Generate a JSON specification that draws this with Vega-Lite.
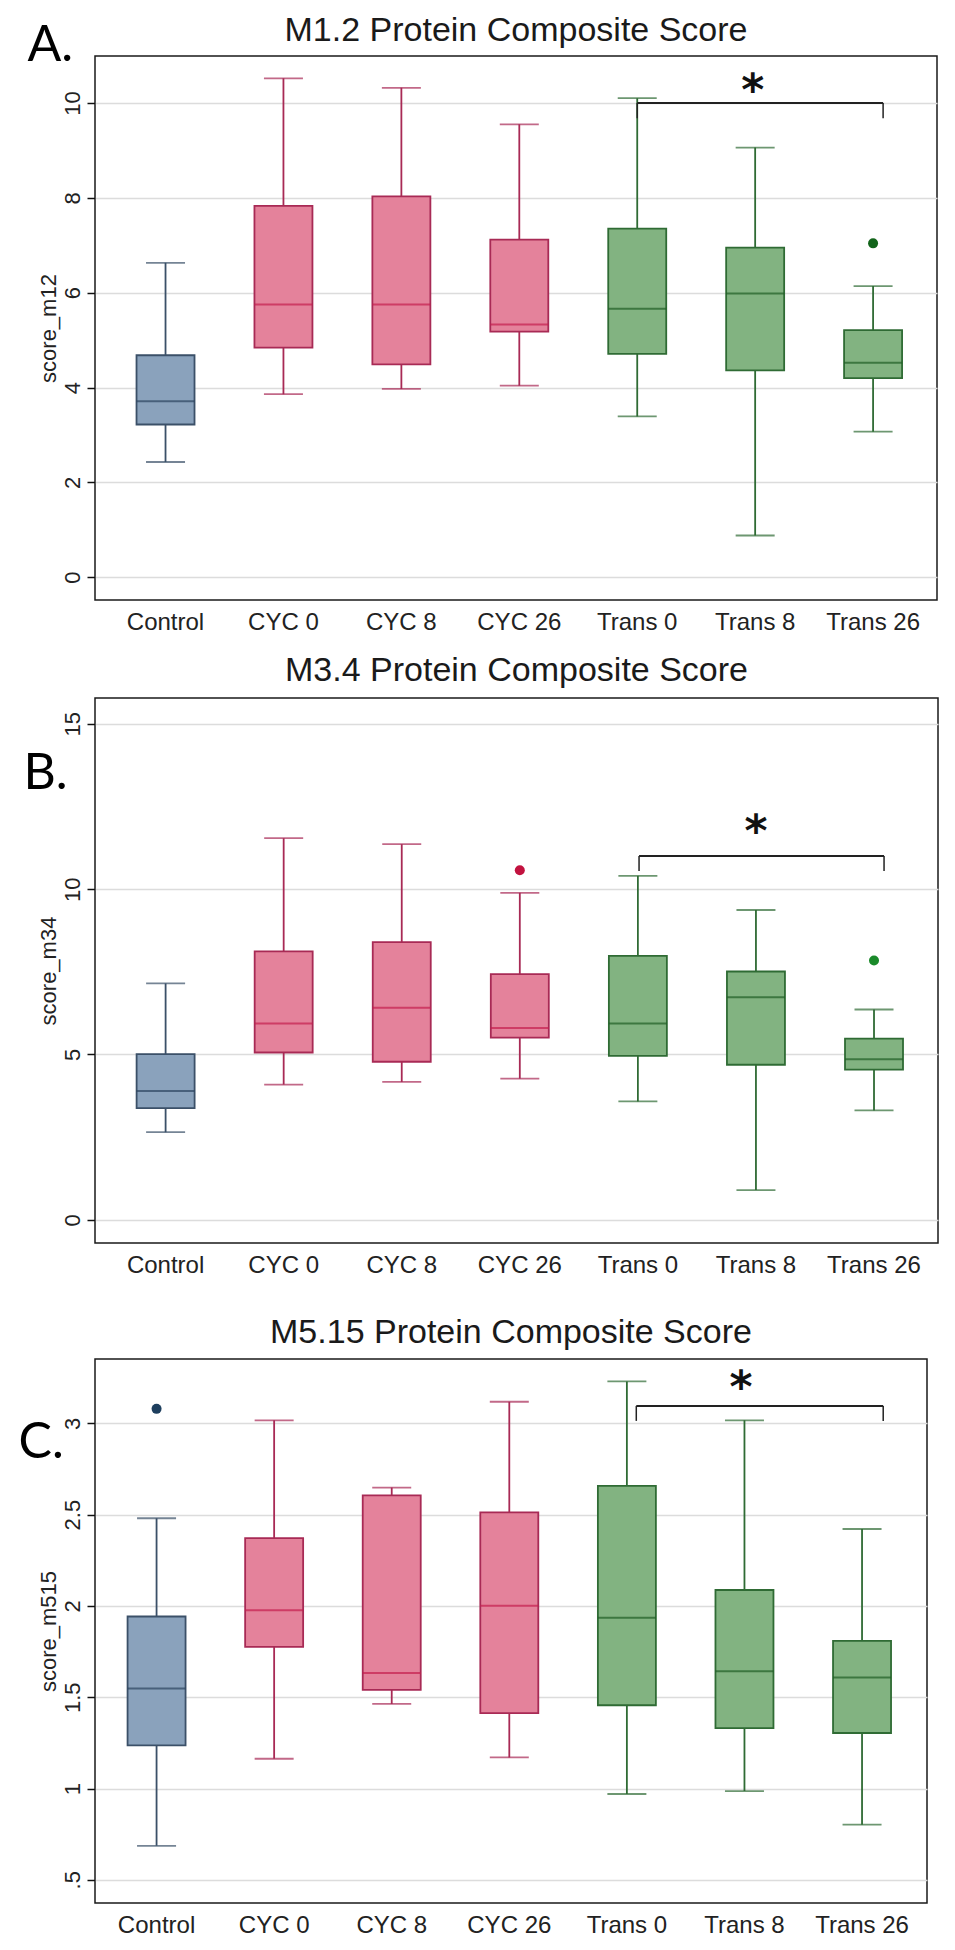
{
  "$schema": "https://vega.github.io/schema/vega-lite/v6.json",
  "padding": {"left": 18, "top": 13, "right": 0, "bottom": 0},
  "background": "white",
  "datasets": {
    "m12": [
      {"group": "Control", "arm": "Control", "lower": 2.43, "q1": 3.22, "median": 3.71, "q3": 4.68, "upper": 6.63},
      {"group": "CYC 0", "arm": "CYC", "lower": 3.86, "q1": 4.84, "median": 5.75, "q3": 7.83, "upper": 10.52},
      {"group": "CYC 8", "arm": "CYC", "lower": 3.97, "q1": 4.49, "median": 5.75, "q3": 8.03, "upper": 10.32},
      {"group": "CYC 26", "arm": "CYC", "lower": 4.04, "q1": 5.18, "median": 5.33, "q3": 7.12, "upper": 9.55},
      {"group": "Trans 0", "arm": "Trans", "lower": 3.39, "q1": 4.71, "median": 5.66, "q3": 7.35, "upper": 10.1},
      {"group": "Trans 8", "arm": "Trans", "lower": 0.88, "q1": 4.36, "median": 5.98, "q3": 6.95, "upper": 9.06},
      {"group": "Trans 26", "arm": "Trans", "lower": 3.07, "q1": 4.2, "median": 4.52, "q3": 5.21, "upper": 6.14}
    ],
    "m12_out": [
      {"group": "Trans 26", "arm": "Trans", "value": 7.04}
    ],
    "m12_sig": [
      {"from": "Trans 0", "to": "Trans 26", "mid": "Trans 8", "bar": 10.0, "end": 9.68, "star": 9.95, "label": "*"}
    ],
    "m34": [
      {"group": "Control", "arm": "Control", "lower": 2.65, "q1": 3.38, "median": 3.9, "q3": 5.01, "upper": 7.15},
      {"group": "CYC 0", "arm": "CYC", "lower": 4.09, "q1": 5.06, "median": 5.94, "q3": 8.12, "upper": 11.54},
      {"group": "CYC 8", "arm": "CYC", "lower": 4.17, "q1": 4.78, "median": 6.41, "q3": 8.4, "upper": 11.36},
      {"group": "CYC 26", "arm": "CYC", "lower": 4.27, "q1": 5.51, "median": 5.8, "q3": 7.43, "upper": 9.89},
      {"group": "Trans 0", "arm": "Trans", "lower": 3.58, "q1": 4.96, "median": 5.94, "q3": 7.98, "upper": 10.4},
      {"group": "Trans 8", "arm": "Trans", "lower": 0.9, "q1": 4.69, "median": 6.73, "q3": 7.51, "upper": 9.37},
      {"group": "Trans 26", "arm": "Trans", "lower": 3.31, "q1": 4.54, "median": 4.86, "q3": 5.48, "upper": 6.36}
    ],
    "m34_out": [
      {"group": "CYC 26", "arm": "CYC", "value": 10.57},
      {"group": "Trans 26", "arm": "Trans", "value": 7.84}
    ],
    "m34_sig": [
      {"from": "Trans 0", "to": "Trans 26", "mid": "Trans 8", "bar": 11.0, "end": 10.55, "star": 11.31, "label": "*"}
    ],
    "m515": [
      {"group": "Control", "arm": "Control", "lower": 0.686, "q1": 1.236, "median": 1.547, "q3": 1.942, "upper": 2.48},
      {"group": "CYC 0", "arm": "CYC", "lower": 1.163, "q1": 1.776, "median": 1.976, "q3": 2.371, "upper": 3.016},
      {"group": "CYC 8", "arm": "CYC", "lower": 1.463, "q1": 1.54, "median": 1.633, "q3": 2.605, "upper": 2.648},
      {"group": "CYC 26", "arm": "CYC", "lower": 1.17, "q1": 1.413, "median": 2.001, "q3": 2.512, "upper": 3.118},
      {"group": "Trans 0", "arm": "Trans", "lower": 0.97, "q1": 1.456, "median": 1.935, "q3": 2.657, "upper": 3.229},
      {"group": "Trans 8", "arm": "Trans", "lower": 0.986, "q1": 1.331, "median": 1.642, "q3": 2.087, "upper": 3.016},
      {"group": "Trans 26", "arm": "Trans", "lower": 0.802, "q1": 1.304, "median": 1.608, "q3": 1.808, "upper": 2.421}
    ],
    "m515_out": [
      {"group": "Control", "arm": "Control", "value": 3.079}
    ],
    "m515_sig": [
      {"from": "Trans 0", "to": "Trans 26", "mid": "Trans 8", "bar": 3.095, "end": 3.013, "star": 3.118, "label": "*"}
    ]
  },
  "spacing": 18,
  "vconcat": [
    {
      "title": {"text": "A.", "anchor": "start", "frame": "group", "font": "Lato", "fontSize": 50, "fontWeight": "normal", "color": "#000000", "offset": 0, "dx": -67.5, "dy": 58},
      "vconcat": [
        {
          "width": 842, "height": 544,
          "title": {"text": "M1.2 Protein Composite Score", "frame": "group", "anchor": "middle", "offset": 8},
          "layer": [
            {"data": {"name": "m12"}, "mark": {"type": "rule", "strokeWidth": 1.8},
             "encoding": {
               "x": {"field": "group", "type": "nominal", "scale": {"type": "band", "domain": ["Control", "CYC 0", "CYC 8", "CYC 26", "Trans 0", "Trans 8", "Trans 26"], "paddingInner": 0, "paddingOuter": 0.07, "align": 0.7}, "axis": {"title": null, "ticks": false, "domain": false, "grid": false, "labelAngle": 0, "labelFontSize": 24, "labelPadding": 10, "labelColor": "#222222"}},
               "y": {"field": "lower", "type": "quantitative", "scale": {"domain": [-0.48, 10.99], "nice": false, "zero": false}, "axis": {"title": "score_m12", "values": [0, 2, 4, 6, 8, 10], "grid": true, "gridColor": "#dcdcdc", "gridWidth": 1.5, "tickSize": 8, "tickColor": "#111111", "tickWidth": 1.5, "domain": false, "labelAngle": -90, "labelAlign": "center", "labelBaseline": "alphabetic", "labelFontSize": 22, "labelPadding": 8, "labelColor": "#222222", "titleFontSize": 22, "titleFontWeight": "normal", "titleColor": "#222222", "titlePadding": 1}},
               "y2": {"field": "upper"},
               "color": {"field": "arm", "type": "nominal", "scale": {"domain": ["Control", "CYC", "Trans"], "range": ["#3b5068", "#a82a55", "#2f6b34"]}, "legend": null}
             }},
            {"data": {"name": "m12"}, "mark": {"type": "tick", "size": 39, "thickness": 1.8},
             "encoding": {"x": {"field": "group", "type": "nominal"}, "y": {"field": "lower", "type": "quantitative"},
               "color": {"field": "arm", "type": "nominal", "scale": {"domain": ["Control", "CYC", "Trans"], "range": ["#3b5068", "#a82a55", "#2f6b34"]}, "legend": null}}},
            {"data": {"name": "m12"}, "mark": {"type": "tick", "size": 39, "thickness": 1.8},
             "encoding": {"x": {"field": "group", "type": "nominal"}, "y": {"field": "upper", "type": "quantitative"},
               "color": {"field": "arm", "type": "nominal", "scale": {"domain": ["Control", "CYC", "Trans"], "range": ["#3b5068", "#a82a55", "#2f6b34"]}, "legend": null}}},
            {"data": {"name": "m12"}, "mark": {"type": "bar", "size": 58, "strokeWidth": 1.8},
             "encoding": {"x": {"field": "group", "type": "nominal"}, "y": {"field": "q1", "type": "quantitative"}, "y2": {"field": "q3"},
               "fill": {"field": "arm", "type": "nominal", "scale": {"domain": ["Control", "CYC", "Trans"], "range": ["#8aa2bc", "#e4829b", "#82b381"]}, "legend": null},
               "stroke": {"field": "arm", "type": "nominal", "scale": {"domain": ["Control", "CYC", "Trans"], "range": ["#3b5068", "#a82a55", "#2f6b34"]}, "legend": null}}},
            {"data": {"name": "m12"}, "mark": {"type": "tick", "size": 58, "thickness": 2},
             "encoding": {"x": {"field": "group", "type": "nominal"}, "y": {"field": "median", "type": "quantitative"},
               "color": {"field": "arm", "type": "nominal", "scale": {"domain": ["Control", "CYC", "Trans"], "range": ["#2c4560", "#c41e4f", "#1f5e25"]}, "legend": null}}},
            {"data": {"name": "m12_out"}, "mark": {"type": "point", "filled": true, "size": 100, "opacity": 1},
             "encoding": {"x": {"field": "group", "type": "nominal"}, "y": {"field": "value", "type": "quantitative"},
               "color": {"field": "arm", "type": "nominal", "scale": {"domain": ["Control", "CYC", "Trans"], "range": ["#1e3f5e", "#c2123f", "#12641a"]}, "legend": null}}},
            {"data": {"name": "m12_sig"}, "mark": {"type": "rule", "strokeWidth": 2, "color": "#222222"},
             "encoding": {"x": {"field": "from", "type": "nominal", "bandPosition": 0.5}, "x2": {"field": "to", "bandPosition": 0.585}, "y": {"field": "bar", "type": "quantitative"}}},
            {"data": {"name": "m12_sig"}, "mark": {"type": "rule", "strokeWidth": 1.5, "color": "#222222"},
             "encoding": {"x": {"field": "from", "type": "nominal", "bandPosition": 0.5}, "y": {"field": "bar", "type": "quantitative"}, "y2": {"field": "end"}}},
            {"data": {"name": "m12_sig"}, "mark": {"type": "rule", "strokeWidth": 1.5, "color": "#222222"},
             "encoding": {"x": {"field": "to", "type": "nominal", "bandPosition": 0.585}, "y": {"field": "bar", "type": "quantitative"}, "y2": {"field": "end"}}},
            {"data": {"name": "m12_sig"}, "mark": {"type": "text", "font": "DejaVu Sans", "fontSize": 44, "fontWeight": "bold", "color": "#111111", "baseline": "alphabetic", "align": "center"},
             "encoding": {"x": {"field": "mid", "type": "nominal", "bandPosition": 0.48}, "y": {"field": "star", "type": "quantitative"}, "text": {"field": "label"}}}
          ],
          "resolve": {"scale": {"color": "independent"}}
        }
      ]
    },
    {
      "spacing": 37,
      "vconcat": [
        {
          "title": {"text": "B.", "anchor": "start", "frame": "group", "font": "Lato", "fontSize": 50, "fontWeight": "normal", "color": "#000000", "offset": 0, "dx": -71.5, "dy": 146},
          "vconcat": [
            {
              "width": 843, "height": 545,
              "title": {"text": "M3.4 Protein Composite Score", "frame": "group", "anchor": "middle", "offset": 10},
              "layer": [
                {"data": {"name": "m34"}, "mark": {"type": "rule", "strokeWidth": 1.8},
                 "encoding": {
                   "x": {"field": "group", "type": "nominal", "scale": {"type": "band", "domain": ["Control", "CYC 0", "CYC 8", "CYC 26", "Trans 0", "Trans 8", "Trans 26"], "paddingInner": 0, "paddingOuter": 0.07, "align": 0.7}, "axis": {"title": null, "ticks": false, "domain": false, "grid": false, "labelAngle": 0, "labelFontSize": 24, "labelPadding": 10, "labelColor": "#222222"}},
                   "y": {"field": "lower", "type": "quantitative", "scale": {"domain": [-0.7, 15.78], "nice": false, "zero": false}, "axis": {"title": "score_m34", "values": [0, 5, 10, 15], "grid": true, "gridColor": "#dcdcdc", "gridWidth": 1.5, "tickSize": 8, "tickColor": "#111111", "tickWidth": 1.5, "domain": false, "labelAngle": -90, "labelAlign": "center", "labelBaseline": "alphabetic", "labelFontSize": 22, "labelPadding": 8, "labelColor": "#222222", "titleFontSize": 22, "titleFontWeight": "normal", "titleColor": "#222222", "titlePadding": 1}},
                   "y2": {"field": "upper"},
                   "color": {"field": "arm", "type": "nominal", "scale": {"domain": ["Control", "CYC", "Trans"], "range": ["#3b5068", "#a82a55", "#2f6b34"]}, "legend": null}
                 }},
                {"data": {"name": "m34"}, "mark": {"type": "tick", "size": 39, "thickness": 1.8},
                 "encoding": {"x": {"field": "group", "type": "nominal"}, "y": {"field": "lower", "type": "quantitative"},
                   "color": {"field": "arm", "type": "nominal", "scale": {"domain": ["Control", "CYC", "Trans"], "range": ["#3b5068", "#a82a55", "#2f6b34"]}, "legend": null}}},
                {"data": {"name": "m34"}, "mark": {"type": "tick", "size": 39, "thickness": 1.8},
                 "encoding": {"x": {"field": "group", "type": "nominal"}, "y": {"field": "upper", "type": "quantitative"},
                   "color": {"field": "arm", "type": "nominal", "scale": {"domain": ["Control", "CYC", "Trans"], "range": ["#3b5068", "#a82a55", "#2f6b34"]}, "legend": null}}},
                {"data": {"name": "m34"}, "mark": {"type": "bar", "size": 58, "strokeWidth": 1.8},
                 "encoding": {"x": {"field": "group", "type": "nominal"}, "y": {"field": "q1", "type": "quantitative"}, "y2": {"field": "q3"},
                   "fill": {"field": "arm", "type": "nominal", "scale": {"domain": ["Control", "CYC", "Trans"], "range": ["#8aa2bc", "#e4829b", "#82b381"]}, "legend": null},
                   "stroke": {"field": "arm", "type": "nominal", "scale": {"domain": ["Control", "CYC", "Trans"], "range": ["#3b5068", "#a82a55", "#2f6b34"]}, "legend": null}}},
                {"data": {"name": "m34"}, "mark": {"type": "tick", "size": 58, "thickness": 2},
                 "encoding": {"x": {"field": "group", "type": "nominal"}, "y": {"field": "median", "type": "quantitative"},
                   "color": {"field": "arm", "type": "nominal", "scale": {"domain": ["Control", "CYC", "Trans"], "range": ["#2c4560", "#c41e4f", "#1f5e25"]}, "legend": null}}},
                {"data": {"name": "m34_out"}, "mark": {"type": "point", "filled": true, "size": 100, "opacity": 1},
                 "encoding": {"x": {"field": "group", "type": "nominal"}, "y": {"field": "value", "type": "quantitative"},
                   "color": {"field": "arm", "type": "nominal", "scale": {"domain": ["Control", "CYC", "Trans"], "range": ["#1e3f5e", "#c2123f", "#1a8a2a"]}, "legend": null}}},
                {"data": {"name": "m34_sig"}, "mark": {"type": "rule", "strokeWidth": 2, "color": "#222222"},
                 "encoding": {"x": {"field": "from", "type": "nominal", "bandPosition": 0.51}, "x2": {"field": "to", "bandPosition": 0.585}, "y": {"field": "bar", "type": "quantitative"}}},
                {"data": {"name": "m34_sig"}, "mark": {"type": "rule", "strokeWidth": 1.5, "color": "#222222"},
                 "encoding": {"x": {"field": "from", "type": "nominal", "bandPosition": 0.51}, "y": {"field": "bar", "type": "quantitative"}, "y2": {"field": "end"}}},
                {"data": {"name": "m34_sig"}, "mark": {"type": "rule", "strokeWidth": 1.5, "color": "#222222"},
                 "encoding": {"x": {"field": "to", "type": "nominal", "bandPosition": 0.585}, "y": {"field": "bar", "type": "quantitative"}, "y2": {"field": "end"}}},
                {"data": {"name": "m34_sig"}, "mark": {"type": "text", "font": "DejaVu Sans", "fontSize": 44, "fontWeight": "bold", "color": "#111111", "baseline": "alphabetic", "align": "center"},
                 "encoding": {"x": {"field": "mid", "type": "nominal", "bandPosition": 0.5}, "y": {"field": "star", "type": "quantitative"}, "text": {"field": "label"}}}
              ],
              "resolve": {"scale": {"color": "independent"}}
            }
          ]
        },
        {
          "title": {"text": "C.", "anchor": "start", "frame": "group", "font": "Lato", "fontSize": 50, "fontWeight": "normal", "color": "#000000", "offset": 0, "dx": -76.5, "dy": 153},
          "vconcat": [
            {
              "width": 832, "height": 544,
              "title": {"text": "M5.15 Protein Composite Score", "frame": "group", "anchor": "middle", "offset": 9},
              "layer": [
                {"data": {"name": "m515"}, "mark": {"type": "rule", "strokeWidth": 1.8},
                 "encoding": {
                   "x": {"field": "group", "type": "nominal", "scale": {"type": "band", "domain": ["Control", "CYC 0", "CYC 8", "CYC 26", "Trans 0", "Trans 8", "Trans 26"], "paddingInner": 0, "paddingOuter": 0.038, "align": 0.31}, "axis": {"title": null, "ticks": false, "domain": false, "grid": false, "labelAngle": 0, "labelFontSize": 24, "labelPadding": 10, "labelColor": "#222222"}},
                   "y": {"field": "lower", "type": "quantitative", "scale": {"domain": [0.373, 3.352], "nice": false, "zero": false}, "axis": {"title": "score_m515", "values": [0.5, 1, 1.5, 2, 2.5, 3], "labelExpr": "datum.value == 0.5 ? '.5' : format(datum.value, '~g')", "grid": true, "gridColor": "#dcdcdc", "gridWidth": 1.5, "tickSize": 8, "tickColor": "#111111", "tickWidth": 1.5, "domain": false, "labelAngle": -90, "labelAlign": "center", "labelBaseline": "alphabetic", "labelFontSize": 22, "labelPadding": 8, "labelColor": "#222222", "titleFontSize": 22, "titleFontWeight": "normal", "titleColor": "#222222", "titlePadding": 1}},
                   "y2": {"field": "upper"},
                   "color": {"field": "arm", "type": "nominal", "scale": {"domain": ["Control", "CYC", "Trans"], "range": ["#3b5068", "#a82a55", "#2f6b34"]}, "legend": null}
                 }},
                {"data": {"name": "m515"}, "mark": {"type": "tick", "size": 39, "thickness": 1.8},
                 "encoding": {"x": {"field": "group", "type": "nominal"}, "y": {"field": "lower", "type": "quantitative"},
                   "color": {"field": "arm", "type": "nominal", "scale": {"domain": ["Control", "CYC", "Trans"], "range": ["#3b5068", "#a82a55", "#2f6b34"]}, "legend": null}}},
                {"data": {"name": "m515"}, "mark": {"type": "tick", "size": 39, "thickness": 1.8},
                 "encoding": {"x": {"field": "group", "type": "nominal"}, "y": {"field": "upper", "type": "quantitative"},
                   "color": {"field": "arm", "type": "nominal", "scale": {"domain": ["Control", "CYC", "Trans"], "range": ["#3b5068", "#a82a55", "#2f6b34"]}, "legend": null}}},
                {"data": {"name": "m515"}, "mark": {"type": "bar", "size": 58, "strokeWidth": 1.8},
                 "encoding": {"x": {"field": "group", "type": "nominal"}, "y": {"field": "q1", "type": "quantitative"}, "y2": {"field": "q3"},
                   "fill": {"field": "arm", "type": "nominal", "scale": {"domain": ["Control", "CYC", "Trans"], "range": ["#8aa2bc", "#e4829b", "#82b381"]}, "legend": null},
                   "stroke": {"field": "arm", "type": "nominal", "scale": {"domain": ["Control", "CYC", "Trans"], "range": ["#3b5068", "#a82a55", "#2f6b34"]}, "legend": null}}},
                {"data": {"name": "m515"}, "mark": {"type": "tick", "size": 58, "thickness": 2},
                 "encoding": {"x": {"field": "group", "type": "nominal"}, "y": {"field": "median", "type": "quantitative"},
                   "color": {"field": "arm", "type": "nominal", "scale": {"domain": ["Control", "CYC", "Trans"], "range": ["#2c4560", "#c41e4f", "#1f5e25"]}, "legend": null}}},
                {"data": {"name": "m515_out"}, "mark": {"type": "point", "filled": true, "size": 100, "opacity": 1},
                 "encoding": {"x": {"field": "group", "type": "nominal"}, "y": {"field": "value", "type": "quantitative"},
                   "color": {"field": "arm", "type": "nominal", "scale": {"domain": ["Control", "CYC", "Trans"], "range": ["#1e3f5e", "#c2123f", "#12641a"]}, "legend": null}}},
                {"data": {"name": "m515_sig"}, "mark": {"type": "rule", "strokeWidth": 2, "color": "#222222"},
                 "encoding": {"x": {"field": "from", "type": "nominal", "bandPosition": 0.58}, "x2": {"field": "to", "bandPosition": 0.68}, "y": {"field": "bar", "type": "quantitative"}}},
                {"data": {"name": "m515_sig"}, "mark": {"type": "rule", "strokeWidth": 1.5, "color": "#222222"},
                 "encoding": {"x": {"field": "from", "type": "nominal", "bandPosition": 0.58}, "y": {"field": "bar", "type": "quantitative"}, "y2": {"field": "end"}}},
                {"data": {"name": "m515_sig"}, "mark": {"type": "rule", "strokeWidth": 1.5, "color": "#222222"},
                 "encoding": {"x": {"field": "to", "type": "nominal", "bandPosition": 0.68}, "y": {"field": "bar", "type": "quantitative"}, "y2": {"field": "end"}}},
                {"data": {"name": "m515_sig"}, "mark": {"type": "text", "font": "DejaVu Sans", "fontSize": 44, "fontWeight": "bold", "color": "#111111", "baseline": "alphabetic", "align": "center"},
                 "encoding": {"x": {"field": "mid", "type": "nominal", "bandPosition": 0.47}, "y": {"field": "star", "type": "quantitative"}, "text": {"field": "label"}}}
              ],
              "resolve": {"scale": {"color": "independent"}}
            }
          ]
        }
      ]
    }
  ],
  "config": {
    "font": "Liberation Sans",
    "view": {"stroke": "#1a1a1a", "strokeWidth": 1.5},
    "title": {"font": "Liberation Sans", "fontSize": 34, "fontWeight": "normal", "color": "#1a1a1a"},
    "axis": {"labelFont": "Liberation Sans", "titleFont": "Liberation Sans"}
  }
}
